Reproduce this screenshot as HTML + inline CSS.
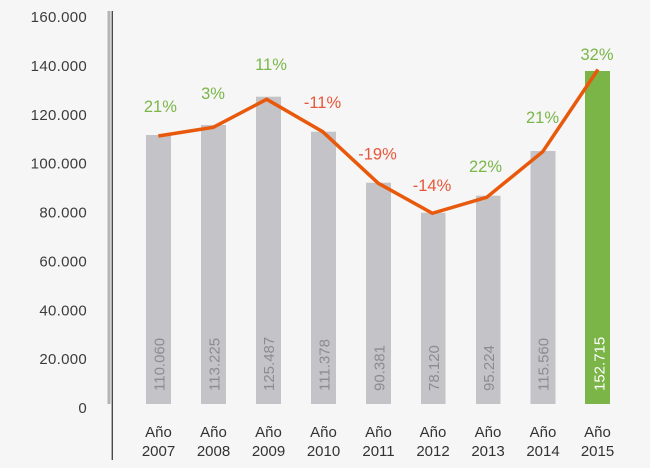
<!DOCTYPE html>
<html>
<head>
<meta charset="utf-8">
<style>
html,body{margin:0;padding:0;background:#f6f6f6;}
svg{display:block;}
text{font-family:"Liberation Sans",Helvetica,Arial,sans-serif;}
</style>
</head>
<body>
<svg width="650" height="468" viewBox="0 0 650 468" xmlns="http://www.w3.org/2000/svg">
<rect width="650" height="468" fill="#f6f6f6"/>
<!-- axis lines -->
<rect x="107.5" y="11" width="3" height="393" fill="#b4b4b4"/>
<rect x="111.6" y="11" width="1.4" height="449" fill="#4a4a4a"/>
<!-- y labels -->
<g font-size="15" fill="#3c3c3c" text-anchor="end" letter-spacing="0.3">
<text x="87" y="22">160.000</text>
<text x="87" y="70.9">140.000</text>
<text x="87" y="119.8">120.000</text>
<text x="87" y="168.6">100.000</text>
<text x="87" y="217.5">80.000</text>
<text x="87" y="266.4">60.000</text>
<text x="87" y="315.3">40.000</text>
<text x="87" y="364.1">20.000</text>
<text x="87" y="413">0</text>
</g>
<!-- bars -->
<g fill="#c4c3c8">
<rect x="146" y="135" width="25" height="269"/>
<rect x="201" y="125" width="25" height="279"/>
<rect x="256" y="96.7" width="25" height="307.3"/>
<rect x="311" y="131.7" width="25" height="272.3"/>
<rect x="366" y="182.7" width="25" height="221.3"/>
<rect x="421" y="212.7" width="24.5" height="191.3"/>
<rect x="476" y="195.7" width="24.5" height="208.3"/>
<rect x="530.5" y="151" width="25" height="253"/>
</g>
<rect x="585" y="71" width="25" height="333" fill="#7bb547"/>
<!-- values in bars -->
<g font-size="15" fill="#8c8c90">
<text transform="translate(164.5,391) rotate(-90)">110.060</text>
<text transform="translate(219.5,391) rotate(-90)">113.225</text>
<text transform="translate(274,391) rotate(-90)">125.487</text>
<text transform="translate(329.5,391) rotate(-90)">111.378</text>
<text transform="translate(384.5,391) rotate(-90)">90.381</text>
<text transform="translate(439,391) rotate(-90)">78.120</text>
<text transform="translate(494,391) rotate(-90)">95.224</text>
<text transform="translate(548.5,391) rotate(-90)">115.560</text>
</g>
<text transform="translate(604.5,391) rotate(-90)" font-size="15" fill="#ffffff">152.715</text>
<!-- line -->
<polyline points="158.3,136 213.3,127.3 266.7,99.3 322.7,131.7 378.3,183.3 432.3,213.3 486.7,197.3 542.7,151.7 598,69.5" fill="none" stroke="#e8590c" stroke-width="3.5" stroke-linejoin="miter" stroke-linecap="butt"/>
<!-- percent labels -->
<g font-size="16.5" text-anchor="middle">
<text x="160.4" y="112" fill="#7ab648">21%</text>
<text x="213" y="99" fill="#7ab648">3%</text>
<text x="271" y="70" fill="#7ab648">11%</text>
<text x="322.5" y="108" fill="#e9553a">-11%</text>
<text x="377.5" y="159.5" fill="#e9553a">-19%</text>
<text x="432" y="191" fill="#e9553a">-14%</text>
<text x="485.5" y="172" fill="#7ab648">22%</text>
<text x="542.5" y="123" fill="#7ab648">21%</text>
<text x="597" y="60" fill="#7ab648">32%</text>
</g>
<!-- x labels -->
<g font-size="15" fill="#333333" text-anchor="middle">
<text x="158.5" y="437">Año</text><text x="158.5" y="456">2007</text>
<text x="213.5" y="437">Año</text><text x="213.5" y="456">2008</text>
<text x="268.5" y="437">Año</text><text x="268.5" y="456">2009</text>
<text x="323.5" y="437">Año</text><text x="323.5" y="456">2010</text>
<text x="378.5" y="437">Año</text><text x="378.5" y="456">2011</text>
<text x="433" y="437">Año</text><text x="433" y="456">2012</text>
<text x="488" y="437">Año</text><text x="488" y="456">2013</text>
<text x="543" y="437">Año</text><text x="543" y="456">2014</text>
<text x="597.5" y="437">Año</text><text x="597.5" y="456">2015</text>
</g>
</svg>
</body>
</html>
